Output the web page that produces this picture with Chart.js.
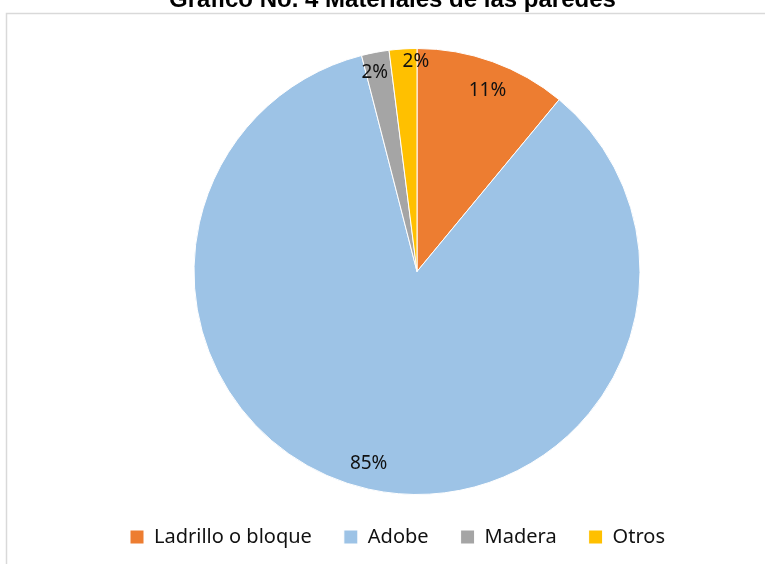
<!DOCTYPE html>
<html>
<head>
<meta charset="utf-8">
<script src="https://cdn.jsdelivr.net/npm/chart.js@4.4.1/dist/chart.umd.min.js"></script>
<style>
  html, body { margin: 0; padding: 0; background: #fff; }
  #wrap { width: 765px; height: 564px; }
</style>
</head>
<body>
<div id="wrap"><canvas id="pie" width="765" height="564"></canvas></div>
<script>
const chartTitle = "Gráfico No. 4 Materiales de las paredes";
const categories = ["Ladrillo o bloque", "Adobe", "Madera", "Otros"];
const values = [11, 85, 2, 2];
const valueLabels = ["11%", "85%", "2%", "2%"];
const sliceColors = ["#ED7D31", "#9DC3E6", "#A5A5A5", "#FFC000"];

// label placement: fraction of radius and small angle nudge (degrees)
const labelRadius = [0.87, 0.89, 0.91, 0.94];
const labelNudge = [1.5, 1.5, -1.2, 3.3];

const framePlugin = {
  id: "frame",
  beforeDraw(chart) {
    const ctx = chart.ctx;
    ctx.save();
    ctx.fillStyle = "#fff";
    ctx.fillRect(0, 0, chart.width, chart.height);
    ctx.strokeStyle = "#d9d9d9";
    ctx.lineWidth = 1.5;
    ctx.strokeRect(6.5, 13.5, chart.width + 20, chart.height + 20);
    ctx.restore();
  },
  afterDraw(chart) {
    const ctx = chart.ctx;
    ctx.save();
    ctx.font = "bold 24px 'Liberation Sans', Arial, sans-serif";
    ctx.fillStyle = "#000";
    ctx.textAlign = "left";
    ctx.textBaseline = "alphabetic";
    ctx.fillText(chartTitle, 169, 7);
    ctx.restore();
  }
};

const sliceLabels = {
  id: "sliceLabels",
  afterDatasetsDraw(chart) {
    const ctx = chart.ctx;
    const meta = chart.getDatasetMeta(0);
    ctx.save();
    ctx.font = "19px 'Noto Sans', sans-serif";
    ctx.fillStyle = "#111";
    ctx.textAlign = "center";
    ctx.textBaseline = "middle";
    meta.data.forEach((arc, i) => {
      const p = arc.getProps(["x", "y", "startAngle", "endAngle", "outerRadius"], true);
      const mid = (p.startAngle + p.endAngle) / 2 + labelNudge[i] * Math.PI / 180;
      const r = p.outerRadius * labelRadius[i];
      ctx.fillText(valueLabels[i], p.x + Math.cos(mid) * r, p.y + Math.sin(mid) * r);
    });
    ctx.restore();
  }
};

new Chart(document.getElementById("pie"), {
  type: "pie",
  data: {
    labels: categories,
    datasets: [{
      data: values,
      backgroundColor: sliceColors,
      borderColor: "#fff",
      borderWidth: 1,
    }],
  },
  options: {
    responsive: false,
    animation: false,
    devicePixelRatio: 1,
    layout: { padding: { top: 48, bottom: 7, left: 98, right: 29 } },
    plugins: {
      title: { display: false },
      tooltip: { enabled: false },
      legend: {
        position: "bottom",
        align: "start",
        labels: {
          color: "#111",
          font: { family: "'Noto Sans', sans-serif", size: 20 },
          boxWidth: 14,
          boxHeight: 14,
          padding: 32,
        },
      },
    },
  },
  plugins: [framePlugin, sliceLabels],
});
</script>
</body>
</html>
